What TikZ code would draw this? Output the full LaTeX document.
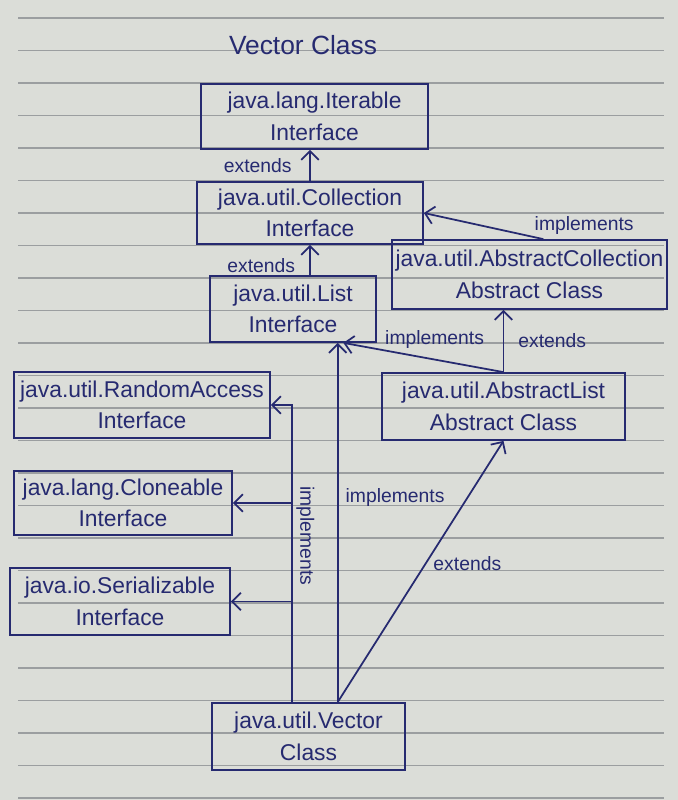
\documentclass[tikz,border=0pt]{standalone}
\usepackage{fontspec}
\setmainfont{Liberation Sans}
\usetikzlibrary{arrows.meta}
\usetikzlibrary{calc}

\definecolor{ink}{RGB}{38,42,112}
\definecolor{paper}{RGB}{219,221,216}
\definecolor{ruling}{RGB}{155,158,160}

\begin{document}
\begin{tikzpicture}[x=0.02cm, y=-0.02cm, >={Straight Barb[length=5pt,width=10pt]},
    box/.style={rectangle, draw=ink, line width=1pt, inner sep=0pt, align=center, text=ink, font=\fontsize{13}{18}\selectfont},
    lbl/.style={text=ink, font=\fontsize{11}{13}\selectfont, inner sep=2pt},
    arr/.style={->, draw=ink, line width=1pt}]
    \fill[paper] (0,0) rectangle (678,800);
    \useasboundingbox (0,0) rectangle (678,800);
    \foreach \k in {0,...,24}
        \draw[ruling, line width=0.6pt] (18, 18+32.5*\k) -- (664, 18+32.5*\k);

    \node[lbl, font=\fontsize{15}{17}\selectfont] (title) at (303, 45) {Vector Class};

    \node[box, minimum width=4.54cm, minimum height=1.3cm] (iterable) at (314.5, 116.5) {java.lang.Iterable\\Interface};
    \node[box, minimum width=4.52cm, minimum height=1.24cm] (collection) at (310, 213) {java.util.Collection\\Interface};
    \node[box, minimum width=3.32cm, minimum height=1.32cm] (list) at (293, 309) {java.util.List\\Interface};
    \node[box, minimum width=5.5cm, minimum height=1.38cm] (abscoll) at (529.5, 274.5) {java.util.AbstractCollection\\Abstract Class};
    \node[box, minimum width=5.12cm, minimum height=1.32cm] (randacc) at (142, 405) {java.util.RandomAccess\\Interface};
    \node[box, minimum width=4.86cm, minimum height=1.34cm] (abslist) at (503.5, 406.5) {java.util.AbstractList\\Abstract Class};
    \node[box, minimum width=4.36cm, minimum height=1.28cm] (cloneable) at (123, 503) {java.lang.Cloneable\\Interface};
    \node[box, minimum width=4.4cm, minimum height=1.34cm] (serial) at (120, 601.5) {java.io.Serializable\\Interface};
    \node[box, minimum width=3.86cm, minimum height=1.34cm] (vector) at (308.5, 736.5) {java.util.Vector\\Class};

    \coordinate (vtop) at ($(vector.north west)!0.65!(vector.north east)$);
    \coordinate (vleft) at ($(vector.north west)!0.415!(vector.north east)$);

    \draw[arr] (collection.north) -- (collection.north |- iterable.south) node[lbl, midway, left=8pt] {extends};
    \draw[arr] (collection.south |- list.north) -- (collection.south) node[lbl, pos=0.3, left=6pt] {extends};
    \draw[arr] ($(abscoll.north west)!0.55!(abscoll.north east)$) -- (collection.east) node[lbl, pos=0, anchor=south west, xshift=-0.26cm] {implements};
    \draw[arr] (abslist.north) -- (abslist.north |- abscoll.south) node[lbl, midway, right=6pt] {extends};
    \draw[arr] (abslist.north) -- ($(list.south)!0.6!(list.south east)$) node[lbl, pos=0.43, above=4pt] {implements};
    \draw[arr] (vtop) -- (vtop |- list.south) node[lbl, pos=0.57, right=2pt] {implements};
    \draw[arr] (vtop) -- (abslist.south) node[lbl, pos=0.53, right=2pt] {extends};
    \draw[arr] (vleft) -- (vleft |- randacc.east) node[lbl, pos=0.56, rotate=-90, anchor=south] {implements} -- (randacc.east);
    \draw[arr] (vleft |- cloneable.east) -- (cloneable.east);
    \draw[arr] (vleft |- serial.east) -- (serial.east);
\end{tikzpicture}
\end{document}
